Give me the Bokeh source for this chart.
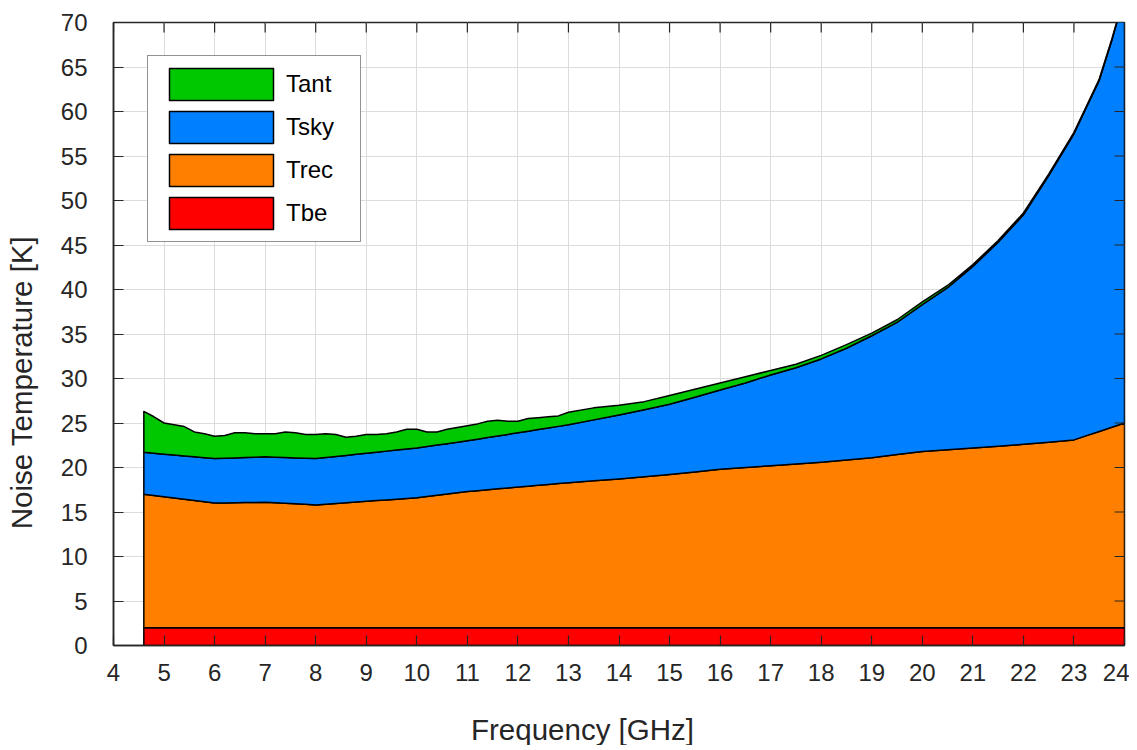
import numpy as np
from bokeh.plotting import figure
from bokeh.models import Range1d, FixedTicker, Legend, LegendItem, Label
from bokeh.embed import file_html
from bokeh.resources import INLINE

# ---- data ----
freq = [4.6, 4.8, 5.0, 5.2, 5.4, 5.6, 5.8, 6.0, 6.2, 6.4, 6.6, 6.8, 7.0, 7.2, 7.4, 7.6, 7.8,
        8.0, 8.2, 8.4, 8.6, 8.8, 9.0, 9.2, 9.4, 9.6, 9.8, 10.0, 10.2, 10.4, 10.6, 10.8, 11.0,
        11.2, 11.4, 11.6, 11.8, 12.0, 12.2, 12.4, 12.6, 12.8, 13.0, 13.5, 14.0, 14.5, 15.0,
        15.5, 16.0, 16.5, 17.0, 17.5, 18.0, 18.5, 19.0, 19.5, 20.0, 20.5, 21.0, 21.5, 22.0,
        22.5, 23.0, 23.25, 23.5, 23.75, 24.0]

tbe = [2.0, 2.0, 2.0, 2.0, 2.0, 2.0, 2.0, 2.0, 2.0, 2.0, 2.0, 2.0, 2.0, 2.0, 2.0, 2.0, 2.0,
       2.0, 2.0, 2.0, 2.0, 2.0, 2.0, 2.0, 2.0, 2.0, 2.0, 2.0, 2.0, 2.0, 2.0, 2.0, 2.0,
       2.0, 2.0, 2.0, 2.0, 2.0, 2.0, 2.0, 2.0, 2.0, 2.0, 2.0, 2.0, 2.0, 2.0,
       2.0, 2.0, 2.0, 2.0, 2.0, 2.0, 2.0, 2.0, 2.0, 2.0, 2.0, 2.0, 2.0, 2.0,
       2.0, 2.0, 2.0, 2.0, 2.0, 2.0]

trec = [15.0, 14.86, 14.71, 14.57, 14.43, 14.29, 14.14, 14.0, 14.02, 14.04, 14.06, 14.08, 14.1,
        14.04, 13.98, 13.92, 13.86, 13.8, 13.88, 13.96, 14.04, 14.12, 14.2, 14.28, 14.36, 14.44,
        14.52, 14.6, 14.74, 14.88, 15.02, 15.16, 15.3, 15.4, 15.5, 15.6, 15.7, 15.8, 15.9, 16.0,
        16.1, 16.2, 16.3, 16.5, 16.7, 16.95, 17.2, 17.5, 17.8, 18.0, 18.2, 18.4, 18.6, 18.85,
        19.1, 19.45, 19.8, 20.0, 20.2, 20.4, 20.6, 20.85, 21.1, 21.58, 22.05, 22.53, 23.0]

tsky = [4.7, 4.74, 4.79, 4.83, 4.87, 4.91, 4.96, 5.0, 5.02, 5.04, 5.06, 5.08, 5.1, 5.12, 5.14,
        5.16, 5.18, 5.2, 5.24, 5.28, 5.32, 5.36, 5.4, 5.44, 5.48, 5.52, 5.56, 5.6, 5.62, 5.64,
        5.66, 5.68, 5.7, 5.78, 5.86, 5.94, 6.02, 6.1, 6.18, 6.26, 6.34, 6.42, 6.5, 6.85, 7.2,
        7.55, 7.9, 8.4, 8.9, 9.5, 10.2, 10.8, 11.6, 12.55, 13.7, 14.85, 16.5, 18.2, 20.4, 22.9,
        25.8, 29.95, 34.4, 36.92, 39.45, 43.47, 48.0]

tant = [4.6, 4.1, 3.5, 3.4, 3.3, 2.8, 2.7, 2.5, 2.56, 2.82, 2.78, 2.64, 2.6, 2.64, 2.88, 2.82,
        2.66, 2.7, 2.68, 2.46, 2.04, 2.02, 2.1, 1.98, 1.96, 2.04, 2.22, 2.1, 1.64, 1.48, 1.62,
        1.66, 1.7, 1.72, 1.84, 1.76, 1.48, 1.3, 1.42, 1.34, 1.26, 1.18, 1.4, 1.35, 1.1, 0.9, 1.0,
        0.9, 0.8, 0.7, 0.5, 0.4, 0.4, 0.4, 0.3, 0.3, 0.3, 0.25, 0.2, 0.2, 0.2, 0.15, 0.15, 0.15,
        0.15, 0.15, 0.15]

series_names = ["Tbe", "Trec", "Tsky", "Tant"]
series_colors = ["#FF0000", "#FF8000", "#0080FF", "#00C800"]
x_ticks = [4, 5, 6, 7, 8, 9, 10, 11, 12, 13, 14, 15, 16, 17, 18, 19, 20, 21, 22, 23, 24]
y_ticks = [0, 5, 10, 15, 20, 25, 30, 35, 40, 45, 50, 55, 60, 65, 70]
x_title = "Frequency [GHz]"
y_title = "Noise Temperature [K]"

FONT = "Liberation Sans"
TXT = "#262626"
X0, X1, Y0, Y1 = 4, 24, 0, 70

p = figure(frame_width=1011, frame_height=623,
           x_range=Range1d(X0, X1), y_range=Range1d(Y0, Y1),
           output_backend="svg", toolbar_location=None,
           min_border_left=113, min_border_top=22, min_border_right=5, min_border_bottom=100)
p.background_fill_color = "white"
p.border_fill_color = "white"
p.outline_line_color = TXT
p.outline_line_width = 1.5

# grid
p.xgrid.ticker = FixedTicker(ticks=x_ticks)
p.ygrid.ticker = FixedTicker(ticks=y_ticks)
p.grid.grid_line_color = "#DCDCDC"
p.grid.grid_line_width = 1

# stacked areas
layers = [tbe, trec, tsky, tant]
lower = np.zeros(len(freq))
renderers = []
for vals, name, col in zip(layers, series_names, series_colors):
    upper = lower + np.array(vals)
    xs = list(freq) + list(freq[::-1])
    ys = list(upper) + list(lower[::-1])
    r = p.patch(xs, ys, fill_color=col, line_color="black", line_width=1.5, line_join="round")
    renderers.append((name, r))
    lower = upper

# inward ticks on the top and right frame edges (box style)
p.ray(x=x_ticks, y=[Y1] * len(x_ticks), length=10, length_units="screen",
      angle=-np.pi / 2, line_color=TXT, line_width=1.2)
p.ray(x=[X1] * len(y_ticks), y=y_ticks, length=10, length_units="screen",
      angle=np.pi, line_color=TXT, line_width=1.2)

# axes
for ax, ticks in ((p.xaxis[0], x_ticks), (p.yaxis[0], y_ticks)):
    ax.ticker = FixedTicker(ticks=ticks)
    ax.axis_line_color = TXT
    ax.axis_line_width = 1.5
    ax.major_tick_line_color = TXT
    ax.major_tick_line_width = 1.2
    ax.major_tick_in = 10
    ax.major_tick_out = 0
    ax.minor_tick_line_color = None
    ax.major_label_text_font = FONT
    ax.major_label_text_color = TXT
    ax.major_label_text_font_size = "24px"

p.xaxis.major_label_standoff = 18
p.yaxis.major_label_standoff = 26

# axis titles, placed in the side panels (offset from the frame centre as in the reference)
xl = Label(x=469, y=-13, x_units="screen", y_units="screen", text=x_title,
           text_align="center", text_baseline="middle", text_font=FONT,
           text_font_size="29.5px", text_color=TXT)
yl = Label(x=-3, y=263, x_units="screen", y_units="screen", text=y_title,
           angle=np.pi / 2, text_align="center", text_baseline="middle", text_font=FONT,
           text_font_size="29.5px", text_color=TXT)
p.add_layout(xl, "below")
p.add_layout(yl, "left")

# legend (top entry first)
items = [LegendItem(label=n, renderers=[r]) for n, r in renderers[::-1]]
legend = Legend(items=items, location=(34, 403))
legend.label_text_font = FONT
legend.label_text_font_size = "24px"
legend.label_text_color = "black"
legend.glyph_width = 130
legend.glyph_height = 40
legend.spacing = 3
legend.padding = 8
legend.margin = 0
legend.label_standoff = 0
legend.label_width = 66
legend.border_line_color = TXT
legend.border_line_width = 1.5
legend.background_fill_color = "white"
legend.background_fill_alpha = 1.0
p.add_layout(legend, "center")

open("out.html", "w").write(file_html(p, INLINE))
